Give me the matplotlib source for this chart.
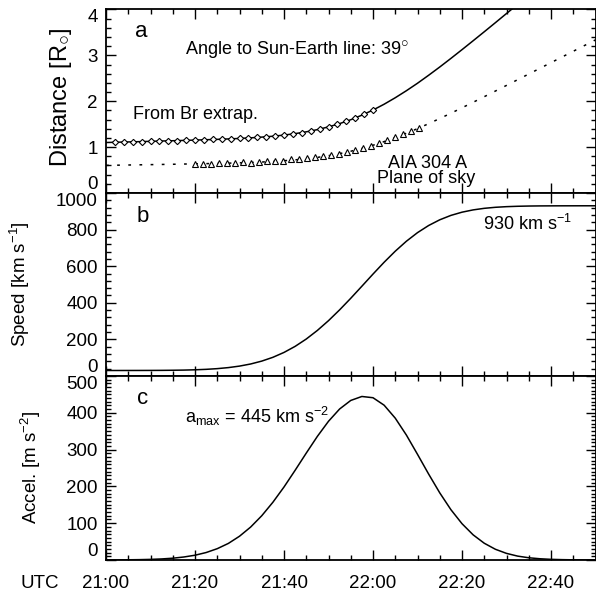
import matplotlib
matplotlib.use('Agg')
import matplotlib.pyplot as plt
from matplotlib.ticker import MultipleLocator

plt.rcParams['font.family'] = 'Liberation Sans'
plt.rcParams['mathtext.fontset'] = 'custom'
plt.rcParams['mathtext.rm'] = 'Liberation Sans'
plt.rcParams['mathtext.it'] = 'Liberation Sans'
plt.rcParams['mathtext.bf'] = 'Liberation Sans:bold'

# minutes after 21:00 UTC
minutes = [0, 2.5, 5, 7.5, 10, 12.5, 15, 17.5, 20, 22.5, 25, 27.5, 30, 32.5, 35,
           37.5, 40, 42.5, 45, 47.5, 50, 52.5, 55, 57.5, 60, 62.5, 65, 67.5, 70,
           72.5, 75, 77.5, 80, 82.5, 85, 87.5, 90, 92.5, 95, 97.5, 100, 102.5,
           105, 107.5, 110]

# panel a: fitted distance (R_sun) and plane of sky distance
distance = [1.100, 1.107, 1.113, 1.119, 1.126, 1.133, 1.139, 1.146, 1.153, 1.161,
            1.169, 1.178, 1.189, 1.202, 1.218, 1.237, 1.262, 1.294, 1.333, 1.381,
            1.441, 1.512, 1.597, 1.696, 1.808, 1.935, 2.076, 2.229, 2.392, 2.566,
            2.746, 2.933, 3.124, 3.318, 3.514, 3.712, 3.912, 4.111, 4.311]
pos_distance = [0.602, 0.606, 0.610, 0.614, 0.618, 0.622, 0.626, 0.631, 0.635, 0.640,
                0.645, 0.650, 0.657, 0.665, 0.675, 0.687, 0.703, 0.722, 0.746, 0.776,
                0.813, 0.858, 0.910, 0.971, 1.041, 1.120, 1.207, 1.302, 1.403, 1.511,
                1.623, 1.738, 1.857, 1.977, 2.099, 2.222, 2.345, 2.469, 2.593, 2.717,
                2.841, 2.965, 3.089, 3.213, 3.337]

br_time = [2, 4, 6, 8, 10, 12, 14, 16, 18, 20, 22, 24, 26, 28, 30,
           32, 34, 36, 38, 40, 42, 44, 46, 48, 50, 52, 54, 56, 58, 60]
br_dist = [1.105, 1.112, 1.114, 1.122, 1.125, 1.133, 1.136, 1.143, 1.147, 1.155,
           1.158, 1.167, 1.172, 1.181, 1.188, 1.200, 1.210, 1.226, 1.241, 1.264,
           1.286, 1.318, 1.351, 1.395, 1.440, 1.500, 1.562, 1.638, 1.716, 1.810]

aia_time = [20.0, 21.8, 23.6, 25.4, 27.2, 29.0, 30.8, 32.6, 34.4, 36.2, 38.0, 39.8,
            41.6, 43.4, 45.2, 47.0, 48.8, 50.6, 52.4, 54.2, 56.0, 57.8, 59.6, 61.4,
            63.2, 65.0, 66.8, 68.6, 70.4]
aia_dist = [0.63, 0.64, 0.63, 0.65, 0.66, 0.65, 0.67, 0.66, 0.68, 0.69, 0.70, 0.70,
            0.73, 0.74, 0.76, 0.78, 0.80, 0.82, 0.86, 0.89, 0.94, 0.98, 1.03, 1.08,
            1.15, 1.21, 1.28, 1.35, 1.42]

# panel b: speed (km/s)
speed = [30.0, 30.0, 30.1, 30.2, 30.4, 30.7, 31.3, 32.2, 33.8, 36.3, 40.1, 45.8,
         54.0, 65.5, 81.3, 102.0, 128.7, 161.8, 201.9, 248.9, 302.3, 361.4, 424.6,
         490.5, 556.9, 621.5, 681.9, 736.3, 783.3, 822.3, 853.5, 877.5, 895.1,
         907.6, 916.2, 921.8, 925.3, 927.4, 928.7, 929.4, 929.7, 929.9, 930.0,
         930.1, 930.1]

# panel c: acceleration (m/s^2)
accel = [0.1, 0.2, 0.5, 0.9, 1.6, 2.8, 4.8, 8.1, 12.9, 20.2, 30.7, 45.0, 64.5,
         89.4, 120.2, 156.8, 198.3, 243.7, 290.4, 335.9, 376.9, 410.3, 433.5,
         444.3, 440.9, 420.6, 385.4, 339.5, 287.1, 233.5, 182.4, 136.8, 98.6,
         68.3, 45.5, 29.1, 17.9, 10.5, 6.0, 3.3, 1.7, 0.9, 0.4, 0.2, 0.1]

tick_pos = [0, 20, 40, 60, 80, 100]
tick_labels = ['21:00', '21:20', '21:40', '22:00', '22:20', '22:40']
yticks_a = [0, 1, 2, 3, 4]
yticks_b = [0, 200, 400, 600, 800, 1000]
yticks_c = [0, 100, 200, 300, 400, 500]

fig = plt.figure(figsize=(5.96, 5.92), dpi=100)
L = 106 / 596.
W = 489.5 / 596.
ax_a = fig.add_axes([L, 0.674, W, 0.310])
ax_b = fig.add_axes([L, 0.3649, W, 0.3091], sharex=ax_a)
ax_c = fig.add_axes([L, 0.0541, W, 0.3108], sharex=ax_a)

ax_a.plot(minutes[:len(distance)], distance, color='black', lw=1.1)
ax_a.plot(minutes, pos_distance, color='black', lw=1.1, linestyle=(0, (1.8, 5.5)))
ax_a.plot(br_time, br_dist, linestyle='none', marker='D', ms=3.2, mfc='white',
          mec='black', mew=0.8)
ax_a.plot(aia_time, aia_dist, linestyle='none', marker='^', ms=4.5, mfc='white',
          mec='black', mew=0.8)
ax_b.plot(minutes, speed, color='black', lw=1.1)
ax_c.plot(minutes, accel, color='black', lw=1.1)

ax_a.set_ylim(0, 4)
ax_b.set_ylim(0, 1000)
ax_c.set_ylim(0, 500)
ax_a.set_yticks(yticks_a)
ax_b.set_yticks(yticks_b)
ax_c.set_yticks(yticks_c)
ax_a.yaxis.set_minor_locator(MultipleLocator(0.2))
ax_b.yaxis.set_minor_locator(MultipleLocator(40))
ax_c.yaxis.set_minor_locator(MultipleLocator(10))

ax_c.set_xlim(0, 110)
ax_c.set_xticks(tick_pos)
ax_c.set_xticklabels(tick_labels)
ax_c.xaxis.set_minor_locator(MultipleLocator(5))

for ax in (ax_a, ax_b, ax_c):
    ax.tick_params(which='both', direction='in', top=True, right=True, width=1,
                   labelsize=13.5)
    ax.tick_params(which='major', length=7)
    ax.tick_params(which='minor', length=3.5)
    ax.tick_params(axis='y', pad=6)
    ax.tick_params(axis='x', pad=10.5)
    for s in ax.spines.values():
        s.set_linewidth(1.3)
    if ax is not ax_c:
        ax.tick_params(axis='x', labelbottom=False)
    labs = ax.get_yticklabels()
    labs[0].set_va('bottom')
    labs[-1].set_va('top')

ax_a.set_ylabel(r'Distance [R$_{\bigcirc}$]', fontsize=17)
ax_a.yaxis.set_label_coords(-0.065, 0.52)
ax_b.set_ylabel(r'Speed [km s$^{\mathregular{-1}}$]', fontsize=13.5)
ax_b.yaxis.set_label_coords(-0.151, 0.503)
ax_c.set_ylabel(r'Accel. [m s$^{\mathregular{-2}}$]', fontsize=13.5)
ax_c.yaxis.set_label_coords(-0.129, 0.503)

ax_a.text(0.059, 0.850, 'a', transform=ax_a.transAxes, fontsize=16, va='baseline')
ax_a.text(0.161, 0.752, r'Angle to Sun-Earth line: 39$^{\bigcirc}$',
          transform=ax_a.transAxes, fontsize=13, va='baseline')
ax_a.text(0.0558, 0.403, 'From Br extrap.', transform=ax_a.transAxes,
          fontsize=13, va='baseline')
ax_a.text(0.656, 0.138, 'AIA 304 A', transform=ax_a.transAxes, fontsize=13,
          va='baseline', ha='center')
ax_a.text(0.654, 0.053, 'Plane of sky', transform=ax_a.transAxes, fontsize=13,
          va='baseline', ha='center')
ax_b.text(0.063, 0.8415, 'b', transform=ax_b.transAxes, fontsize=16, va='baseline')
ax_b.text(0.952, 0.798, r'930 km s$^{\mathregular{-1}}$', transform=ax_b.transAxes,
          fontsize=13, va='baseline', ha='right')
ax_c.text(0.063, 0.848, 'c', transform=ax_c.transAxes, fontsize=16, va='baseline')
ax_c.text(0.161, 0.745, r'a$_{\mathregular{max}}$ = 445 km s$^{\mathregular{-2}}$',
          transform=ax_c.transAxes, fontsize=13, va='baseline')

fig.text(20 / 596., 1 - 583 / 592., 'UTC', fontsize=13.5, va='center')

fig.savefig('out.png', dpi=100)
